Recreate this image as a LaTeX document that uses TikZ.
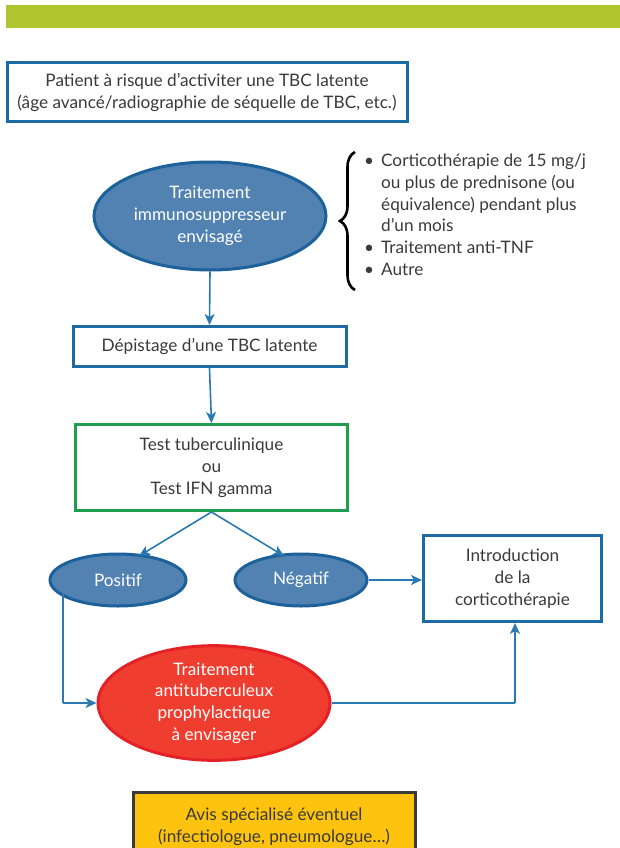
\documentclass[tikz,border=0pt]{standalone}
\usepackage{fontspec}
\setmainfont{Lato}
\usetikzlibrary{arrows.meta,decorations.pathreplacing,shapes.geometric}
\definecolor{barGreen}{HTML}{AFC42E}
\definecolor{boxBlue}{HTML}{1E6AA3}
\definecolor{arrBlue}{HTML}{2B79B3}
\definecolor{ellFill}{HTML}{5282B2}
\definecolor{ellLine}{HTML}{1D619A}
\definecolor{redFill}{HTML}{EF3E2F}
\definecolor{redLine}{HTML}{E42127}
\definecolor{testGreen}{HTML}{1E9E4E}
\definecolor{yelFill}{HTML}{FEC30F}
\definecolor{yelLine}{HTML}{3A3A3A}
\definecolor{txt}{HTML}{3A3A3A}
\tikzset{
  basefont/.style={font=\fontsize{17.2}{21.8}\selectfont, text=txt},
  bluebox/.style={basefont, draw=boxBlue, line width=3pt, fill=white, align=center, inner sep=0pt},
  blueell/.style={basefont, ellipse, draw=ellLine, fill=ellFill, line width=3pt, text=white, align=center, inner sep=0pt},
  arr/.style={draw=arrBlue, line width=1.6pt, -{Stealth[length=11pt,width=10pt,inset=3pt]}},
  ln/.style={draw=arrBlue, line width=1.6pt}
}
\begin{document}
\begin{tikzpicture}[x=1pt,y=-1pt]
\useasboundingbox (0,0) rectangle (620,848);
\fill[barGreen] (6,5) rectangle (620,28);

% top box
\node[bluebox, minimum width=400pt, minimum height=59pt] (pat) at (207,92.5)
  {Patient à risque d’activiter une TBC latente\\(âge avancé/radiographie de séquelle de TBC, etc.)};

% immunosuppressant ellipse
\node[blueell, minimum width=232pt, minimum height=108pt] (imm) at (210,216)
  {Traitement\\immunosuppresseur\\envisagé};

% brace and list
\draw[line width=2.6pt, decorate, decoration={brace, amplitude=15pt}] (355,290) -- (355,152);
\node[basefont, anchor=north west, inner sep=0pt] (list) at (364,151)
  {\begin{tabular}{@{}l@{\hspace{7pt}}l@{}}
  •& Corticothérapie de 15 mg/j\\
   & ou plus de prednisone (ou\\
   & équivalence) pendant plus\\
   & d’un mois\\
  •& Traitement anti-TNF\\
  •& Autre
  \end{tabular}};

% screening
\node[bluebox, minimum width=273pt, minimum height=40pt] (dep) at (209.5,346.5)
  {Dépistage d’une TBC latente};
\node[bluebox, draw=testGreen, minimum width=272pt, minimum height=86pt] (test) at (211.5,467.5)
  {Test tuberculinique\\ou\\Test IFN gamma};

% results
\node[blueell, minimum width=136pt, minimum height=52pt] (pos) at (118,580) {Positif};
\node[blueell, minimum width=132pt, minimum height=52pt] (neg) at (301,580) {Négatif};

\node[bluebox, minimum width=178pt, minimum height=86pt] (intro) at (512.5,578.5)
  {Introduction\\de la\\corticothérapie};

\node[basefont, ellipse, draw=redLine, fill=redFill, line width=3pt, text=white, align=center, inner sep=0pt,
  minimum width=232pt, minimum height=112pt] (red) at (214,703)
  {Traitement\\antituberculeux\\prophylactique\\à envisager};

\begin{scope}
\clip (0,0) rectangle (620,848);
\node[basefont, draw=yelLine, fill=yelFill, line width=3pt, minimum width=282pt, minimum height=70pt,
  align=center, inner sep=0pt, anchor=north] (avis) at (274,791)
  {\raisebox{8pt}{\begin{tabular}{@{}c@{}}Avis spécialisé éventuel\\(infectiologue, pneumologue…)\end{tabular}}};
\end{scope}

% connectors
\draw[arr] (imm.south) -- (dep.north);
\draw[arr] (dep.south) -- (test.north);
\coordinate (tb) at (test.south);
\draw[arr] (tb) -- (139,556);
\draw[arr] (tb) -- (284,556);
\draw[arr] (neg.east) -- (intro.west |- neg.east);
\coordinate (pup) at (63,594);
\coordinate (pdown) at (63,703);
\draw[ln] (pup) -- (pdown);
\draw[arr] (pdown) -- (red.west);
\coordinate (rcorner) at (515,703);
\draw[ln] (red.east) -- (rcorner);
\draw[arr] (rcorner) -- (rcorner |- intro.south);
\end{tikzpicture}
\end{document}
